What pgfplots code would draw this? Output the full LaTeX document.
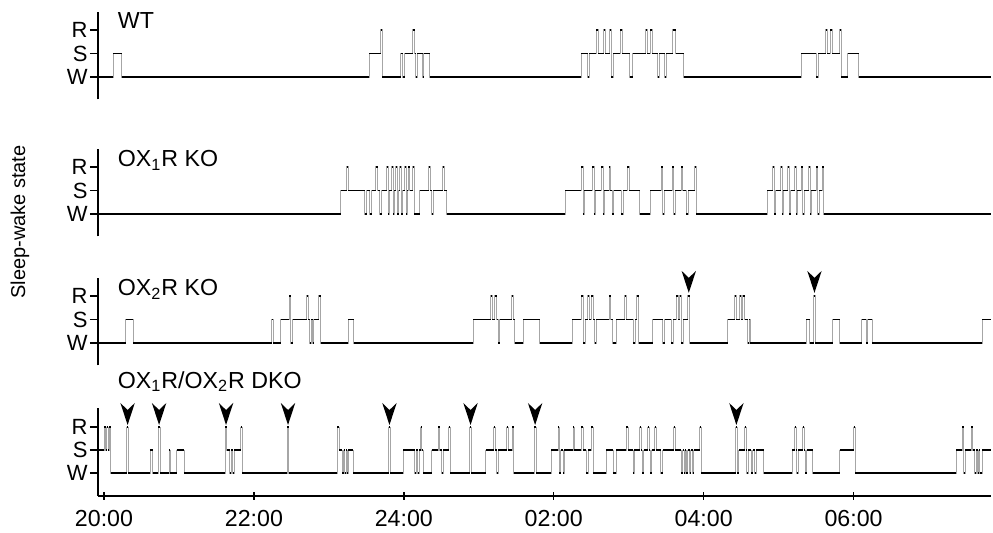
\documentclass[border=0pt]{standalone}
\usepackage{fontspec}
\setmainfont{Liberation Sans}
\usepackage{pgfplots}
\usepackage{pgfplotstable}
\pgfplotsset{compat=1.18}

% x: minutes after 20:00, y: 0=W, 1=S, 2=R (state holds until the next row)
\pgfplotstableread[row sep=\\]{x y\\
-4.8 0\\ 7.2 1\\ 14.2 0\\ 212.2 1\\ 221.6 2\\ 222.8 0\\ 237.4 1\\ 239.2 0\\ 240.8 1\\
247.2 2\\ 248.8 1\\ 249.6 0\\ 250.8 1\\ 255 0\\ 256 1\\ 260.8 0\\ 382.2 1\\ 387.2 0\\
388.4 1\\ 394.2 2\\ 395.6 1\\ 400 2\\ 401.4 1\\ 404.8 2\\ 406.2 0\\ 407.6 1\\ 413.4 2\\
414.8 1\\ 420.8 0\\ 423.2 1\\ 433.6 2\\ 435 1\\ 437.4 2\\ 438.8 1\\ 443.2 0\\ 444.6 1\\
448.8 0\\ 450.2 1\\ 455.2 2\\ 457.6 1\\ 464 0\\ 558.2 1\\ 570.2 0\\ 571.6 1\\ 577.6 2\\
579 1\\ 581.4 2\\ 582.8 1\\ 588.8 2\\ 590.2 0\\ 595.4 1\\ 604.2 0\\ 710 0\\
}\wt

\pgfplotstableread[row sep=\\]{x y\\
-4.8 0\\ 189.4 1\\ 194.2 2\\ 195.6 1\\ 208.8 0\\ 210.2 1\\ 212.8 0\\ 214.2 1\\
217.6 2\\ 219 1\\ 220.8 0\\ 222.2 1\\ 226.2 2\\ 227.4 0\\ 228.4 1\\ 230.2 2\\
231.4 0\\ 232.4 1\\ 233.6 2\\ 234.8 0\\ 235.8 1\\ 236.8 2\\ 238 0\\ 239 1\\
240.8 2\\ 242 0\\ 242.6 1\\ 243.6 2\\ 244.8 1\\ 247 2\\ 248.4 0\\ 252.8 1\\
260 2\\ 261.2 1\\ 262.4 0\\ 263.6 1\\ 271 2\\ 272.4 1\\ 274.2 0\\
369.4 1\\ 382.2 2\\ 383.4 0\\ 384.4 1\\ 391 2\\ 392.2 0\\ 393.2 1\\ 398.2 2\\
399.4 0\\ 400.4 1\\ 404.2 2\\ 405.4 1\\ 406.6 0\\ 408 1\\ 414.2 0\\ 415.6 1\\
419 2\\ 420.4 1\\ 428.8 0\\ 437.4 1\\ 446.2 2\\ 447.4 0\\ 448.4 1\\ 455 2\\
456.2 0\\ 457.2 1\\ 462.2 2\\ 463.4 1\\ 466.2 0\\ 467.6 1\\ 472.8 2\\ 474.2 0\\
531 1\\ 535.4 2\\ 536.6 0\\ 537.6 1\\ 541.6 2\\ 542.8 0\\ 543.8 1\\ 547.4 2\\
548.6 0\\ 549.6 1\\ 552.8 2\\ 554 0\\ 555 1\\ 558.2 2\\ 559.4 0\\ 560.4 1\\
564 2\\ 565.2 0\\ 566.2 1\\ 570.2 2\\ 571.4 0\\ 572.4 1\\ 574.9 2\\ 576.2 0\\
710 0\\
}\oxone

\pgfplotstableread[row sep=\\]{x y\\
-4.8 0\\ 17.4 1\\ 23.4 0\\ 134.2 1\\ 135.4 0\\ 141.4 1\\ 148.2 2\\ 149.6 0\\
151 1\\ 162.2 2\\ 163.6 1\\ 164.8 0\\ 166 1\\ 167 0\\ 168 1\\ 172 2\\ 173.4 0\\
195.4 1\\ 200 0\\ 295.4 1\\ 309.4 2\\ 310.8 1\\ 312.8 2\\ 314.2 1\\ 315.4 0\\
316.8 1\\ 326.2 2\\ 327.6 1\\ 328.8 0\\ 335.4 1\\ 348.8 0\\ 375 1\\ 382.2 2\\
383.6 0\\ 385 1\\ 387.2 2\\ 388.6 1\\ 390.2 2\\ 391.6 1\\ 392.8 0\\ 394.2 1\\
404.2 2\\ 405.6 1\\ 407.2 0\\ 410.2 1\\ 416.8 2\\ 418.2 1\\ 423.4 0\\ 425.4 1\\
426.6 2\\ 428 0\\ 439.4 1\\ 447.4 0\\ 448.8 1\\ 454.2 0\\ 455.6 1\\ 458.2 2\\
459.6 1\\ 460.8 2\\ 462.2 0\\ 463.6 1\\ 467.4 2\\ 468.8 0\\ 499.4 1\\ 504.8 2\\
506.2 1\\ 508.8 2\\ 510.2 1\\ 511.4 2\\ 512.8 1\\ 515.2 0\\ 516.4 1\\ 517.4 0\\
562.2 1\\ 564.8 0\\ 568 2\\ 569.4 0\\ 583.4 1\\ 588.8 0\\ 606.6 1\\ 610.2 0\\
611.4 1\\ 615 0\\ 702.9 1\\ 710 1\\
}\oxtwo

\pgfplotstableread[row sep=\\]{x y\\
-4.8 1\\ 0 2\\ 1.4 1\\ 2.2 2\\ 3.4 1\\ 4.2 2\\ 5.4 0\\ 18.2 2\\ 19.6 0\\
36.8 1\\ 39 0\\ 43.4 2\\ 44.8 0\\ 52 1\\ 53.2 0\\ 58.2 1\\ 64 0\\ 97 2\\
98.4 1\\ 100.8 0\\ 102 1\\ 103 0\\ 104.2 1\\ 109.4 2\\ 110.6 0\\ 146.6 2\\
148 0\\ 186.8 2\\ 188.2 1\\ 190.6 0\\ 191.8 1\\ 192.8 0\\ 193.8 1\\ 194.6 0\\
195.6 1\\ 199.4 0\\ 227.8 2\\ 229.2 0\\ 239.4 1\\ 248.8 0\\ 250 1\\ 251.2 0\\
252.4 1\\ 253.4 2\\ 254.4 1\\ 255.4 0\\ 262.2 1\\ 267.4 2\\ 268.6 1\\ 270.2 0\\
271.4 1\\ 275.8 2\\ 277 0\\ 292.8 2\\ 294 0\\ 305.6 1\\ 312 2\\ 313.2 1\\
314.2 0\\ 315.4 1\\ 322.2 2\\ 323.4 1\\ 326.6 2\\ 327.8 0\\ 344.4 2\\ 345.8 0\\
358.2 1\\ 363.4 2\\ 364.6 0\\ 365.6 1\\ 367.4 0\\ 368.4 1\\ 375.4 2\\ 376.6 1\\
382.2 2\\ 383.4 1\\ 386.2 0\\ 387.4 1\\ 390.2 2\\ 391.4 0\\ 402.2 1\\ 407.4 0\\
410.2 1\\ 418.2 2\\ 419.4 1\\ 423.4 0\\ 424.6 1\\ 428.8 2\\ 430 1\\ 431 0\\
432.2 1\\ 435.4 2\\ 436.6 1\\ 437.2 0\\ 438.4 1\\ 440.8 2\\ 442 1\\ 445.5 0\\
447.4 1\\ 456 2\\ 457.2 1\\ 462.2 0\\ 463.2 1\\ 464.6 0\\ 465.4 1\\ 466.2 0\\
467.2 1\\ 468.8 0\\ 469.8 1\\ 471.2 0\\ 472.2 1\\ 476.8 2\\ 478 0\\ 505.6 2\\
506.8 0\\ 508.2 1\\ 512.8 2\\ 514 1\\ 514.6 0\\ 515.6 1\\ 518.2 0\\ 519.4 1\\
520.8 0\\ 522 1\\ 528 0\\ 550.8 1\\ 552.8 2\\ 554 1\\ 554.4 0\\ 555.6 1\\
559.4 2\\ 560.6 1\\ 561.2 0\\ 562.4 1\\ 567.4 0\\ 588.8 1\\ 600 2\\ 601.2 0\\
682.2 1\\ 686.8 2\\ 688 0\\ 689.4 1\\ 694 2\\ 695.2 1\\ 696.8 0\\ 698 1\\
699.4 0\\ 700.2 1\\ 701 0\\ 702.9 1\\ 710 1\\
}\dko

% arrowhead pointing down, tip at the data point
\pgfdeclareplotmark{remarrow}{%
  \pgfpathmoveto{\pgfpoint{0pt}{0pt}}%
  \pgfpathlineto{\pgfpoint{-3.6pt}{11pt}}%
  \pgfpathlineto{\pgfpoint{0pt}{7.5pt}}%
  \pgfpathlineto{\pgfpoint{3.6pt}{11pt}}%
  \pgfpathclose
  \pgfusepathqfill}

\pgfplotsset{
  hypno/.style={
    scale only axis, width=446.5pt, height=43.5pt,
    xmin=-4.8, xmax=710, ymin=-0.95, ymax=2.75,
    axis y line=left,
    ytick={0,1,2}, yticklabels={W,S,R},
    tick align=outside, major tick length=4pt,
    tick style={line width=0.7pt, black},
    yticklabel style={font=\fontsize{11}{12}\selectfont, inner xsep=1pt},
    clip=false,
    anchor=south west,
  },
  vert/.style={const plot, gray!70, line width=0.45pt, mark=none},
  horz/.style={jump mark left, black, line width=0.8pt, mark=none},
  rem/.style={only marks, mark=remarrow, black},
}
\newcommand{\plab}{\fontsize{11.6}{14}\selectfont}

\begin{document}
\begin{tikzpicture}
\path[use as bounding box] (0,0) rectangle (496.5pt,-266.5pt);
\node[rotate=90, font=\fontsize{10}{12}\selectfont] at (10pt,-111pt) {Sleep-wake state};

% WT
\begin{axis}[hypno, at={(49pt,-49.65pt)}, axis x line=none, xtick=\empty,
  axis line style={-, line width=0.7pt}]
\addplot[vert] table {\wt};
\addplot[horz] table {\wt};
\node[anchor=base west, font=\plab] at (axis cs:5.5,2.08) {WT};
\end{axis}

% OX1R KO
\begin{axis}[hypno, at={(49pt,-118.15pt)}, axis x line=none, xtick=\empty,
  axis line style={-, line width=0.7pt}]
\addplot[vert] table {\oxone};
\addplot[horz] table {\oxone};
\node[anchor=base west, font=\plab] at (axis cs:5.5,2.0) {OX\textsubscript{1}R KO};
\end{axis}

% OX2R KO
\begin{axis}[hypno, at={(49pt,-182.65pt)}, axis x line=none, xtick=\empty,
  axis line style={-, line width=0.7pt}]
\addplot[vert] table {\oxtwo};
\addplot[horz] table {\oxtwo};
\addplot[rem] coordinates {(468.1,2.13) (568.7,2.13)};
\node[anchor=base west, font=\plab] at (axis cs:5.5,2.0) {OX\textsubscript{2}R KO};
\end{axis}

% OX1R/OX2R DKO
\begin{axis}[hypno, at={(49pt,-248pt)}, height=44pt, ymin=-1, ymax=2.83,
  axis x line=bottom,
  axis line style={-, line width=0.7pt},
  xtick={0,120,240,360,480,600},
  xticklabels={20:00,22:00,24:00,02:00,04:00,06:00},
  xticklabel style={font=\plab, inner ysep=2pt, yshift=-3pt}]
\addplot[vert] table {\dko};
\addplot[horz] table {\dko};
\addplot[rem] coordinates {(18.9,2.09) (44.1,2.09) (97.7,2.09) (147.3,2.09)
  (228.5,2.09) (293.4,2.09) (345.1,2.09) (506.2,2.09)};
\node[anchor=base west, font=\plab] at (axis cs:5.5,3.7) {OX\textsubscript{1}R/OX\textsubscript{2}R DKO};
\end{axis}
\end{tikzpicture}
\end{document}
